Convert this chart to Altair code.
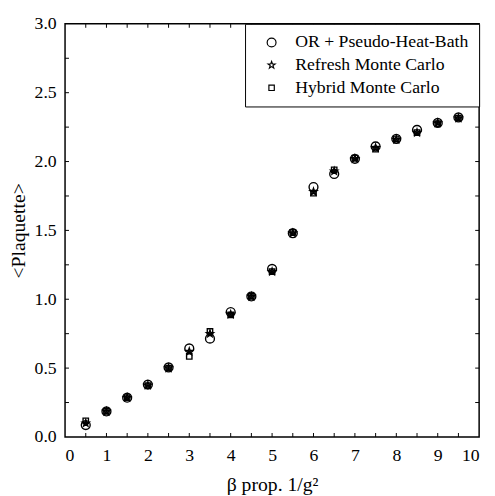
import altair as alt
import pandas as pd

beta = [0.5, 1.0, 1.5, 2.0, 2.5, 3.0, 3.5, 4.0, 4.5, 5.0, 5.5, 6.0, 6.5, 7.0, 7.5, 8.0, 8.5, 9.0, 9.5]
or_phb = [0.086, 0.185, 0.285, 0.38, 0.505, 0.643, 0.714, 0.907, 1.02, 1.22, 1.48, 1.815, 1.91, 2.02, 2.11, 2.165, 2.23, 2.28, 2.32]
refresh = [0.10, 0.185, 0.285, 0.375, 0.50, 0.62, 0.75, 0.89, 1.02, 1.20, 1.48, 1.78, 1.93, 2.02, 2.10, 2.16, 2.21, 2.28, 2.315]
hybrid = [0.117, 0.185, 0.285, 0.372, 0.50, 0.585, 0.766, 0.886, 1.02, 1.20, 1.485, 1.77, 1.94, 2.025, 2.09, 2.165, 2.21, 2.275, 2.315]

series = ["OR + Pseudo-Heat-Bath", "Refresh Monte Carlo", "Hybrid Monte Carlo"]
x_ticks = [0.5, 1, 1.5, 2, 2.5, 3, 3.5, 4, 4.5, 5, 5.5, 6, 6.5, 7, 7.5, 8, 8.5, 9, 9.5]
y_ticks = [0.25, 0.5, 0.75, 1.0, 1.25, 1.5, 1.75, 2.0, 2.25, 2.5, 2.75]
x_labels = [0, 1, 2, 3, 4, 5, 6, 7, 8, 9, 10]
y_labels = [0.0, 0.5, 1.0, 1.5, 2.0, 2.5, 3.0]

rows = []
for name, vals in zip(series, [or_phb, refresh, hybrid]):
    for b, v in zip(beta, vals):
        rows.append({"beta": b, "val": v, "series": name})
df = pd.DataFrame(rows)
df_star = pd.DataFrame({"beta": beta, "val": refresh})

W, H = 421, 420
FONT = "Liberation Serif"
star_path = ("M0,-1L0.235,-0.324L0.951,-0.309L0.380,0.124L0.588,0.809L0,0.4"
             "L-0.588,0.809L-0.380,0.124L-0.951,-0.309L-0.235,-0.324Z")

xenc = alt.X("beta:Q", scale=alt.Scale(domain=[0, 10], nice=False),
             axis=alt.Axis(values=x_labels, format="d", labelPadding=10, titlePadding=10,
                           labelFont=FONT, titleFont=FONT, labelFontSize=18, titleFontSize=20),
             title="β prop. 1/g²")
yenc = alt.Y("val:Q", scale=alt.Scale(domain=[0, 3], nice=False),
             axis=alt.Axis(values=y_labels, format=".1f", labelPadding=9, titlePadding=6,
                           labelFont=FONT, titleFont=FONT, labelFontSize=18, titleFontSize=20),
             title="<Plaquette>")

points = alt.Chart(df).mark_point(filled=False, strokeWidth=1.4, opacity=1, color="black").encode(
    x=xenc, y=yenc,
    shape=alt.Shape("series:N", scale=alt.Scale(domain=series, range=["circle", star_path, "square"]),
                    title=None),
    size=alt.Size("series:N", scale=alt.Scale(domain=series, range=[81, 30, 72]), title=None),
)
stars = alt.Chart(df_star).mark_point(filled=True, shape=star_path, size=30, color="black", opacity=1).encode(
    x=xenc, y=yenc)

xt = pd.DataFrame({"beta": x_ticks})
yt = pd.DataFrame({"val": y_ticks})
tick_bottom = alt.Chart(xt).mark_rule(color="black", strokeWidth=1).encode(
    x=xenc, y=alt.value(H), y2=alt.value(H - 4))
tick_top = alt.Chart(xt).mark_rule(color="black", strokeWidth=1).encode(
    x=xenc, y=alt.value(0), y2=alt.value(4))
tick_left = alt.Chart(yt).mark_rule(color="black", strokeWidth=1).encode(
    y=yenc, x=alt.value(0), x2=alt.value(4))
tick_right = alt.Chart(yt).mark_rule(color="black", strokeWidth=1).encode(
    y=yenc, x=alt.value(W), x2=alt.value(W - 4))

chart = alt.layer(tick_bottom, tick_top, tick_left, tick_right, stars, points).properties(
    width=W, height=H,
    autosize=alt.AutoSizeParams(type="none"),
    padding={"left": 58, "top": 12, "right": 8, "bottom": 60},
).configure_view(
    stroke="black", strokeWidth=1.5
).configure_axis(
    grid=False, ticks=False, domain=False,
    labelFont=FONT, labelFontSize=18, labelColor="black",
    titleFont=FONT, titleFontSize=20, titleFontWeight="normal", titleColor="black",
).configure_legend(
    orient="top-right", offset=0, padding=10,
    fillColor="white", strokeColor="black", strokeWidth=1,
    labelFont=FONT, labelFontSize=18, labelColor="black",
    labelLimit=400, labelOffset=15, symbolOffset=8, rowPadding=5,
    symbolStrokeColor="black", symbolStrokeWidth=1.2,
)

chart.save("out.html", embed_options={"renderer": "svg", "actions": False})
